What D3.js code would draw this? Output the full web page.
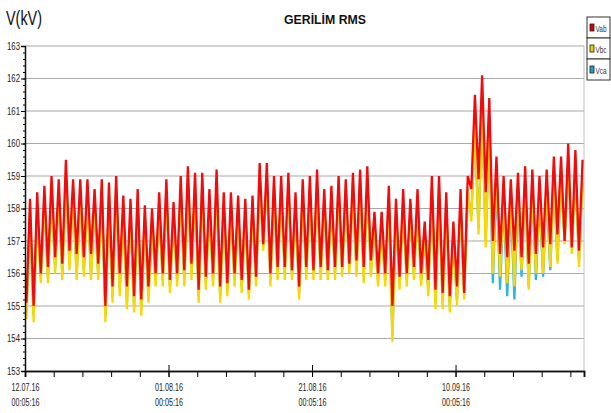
<!DOCTYPE html>
<html>
<head>
<meta charset="utf-8">
<script src="https://cdn.jsdelivr.net/npm/d3@7"></script>
<style>
  body { margin: 0; background: #fff; }
  svg { display: block; font-family: "Liberation Sans", Arial, sans-serif; }
</style>
</head>
<body>
<div id="chart"></div>
<script>
// daily extremes (kV), one value per day from 12.07.16
const vabMax = [158.3,158.5,158.7,159.0,158.9,159.5,158.9,158.9,158.9,158.6,
  158.9,158.8,159.0,158.4,158.3,158.6,158.1,158.0,158.5,158.9,
  158.2,159.0,159.3,159.1,159.1,158.6,159.2,158.5,158.5,158.4,
  158.3,158.4,159.4,159.4,159.0,159.0,159.1,158.5,158.9,159.0,
  159.2,158.6,158.7,159.0,158.9,159.1,159.2,159.3,157.9,157.9,
  158.7,158.3,158.6,158.3,158.6,157.6,159.0,159.0,158.5,157.6,
  158.6,159.0,161.5,162.1,161.4,159.6,159.0,158.9,159.1,159.3,
  159.2,159.0,159.2,159.6,159.6,160.0,159.8,159.5];
const vabMin = [155.1,155.0,156.0,156.2,156.5,156.3,156.7,156.6,156.5,156.6,
  156.3,155.0,155.6,156.0,155.6,155.3,155.2,155.6,156.0,156.0,
  155.8,156.0,156.1,156.3,155.5,155.9,156.0,155.6,155.7,156.0,
  155.8,155.5,155.9,156.9,156.0,156.2,156.2,156.1,155.6,156.2,
  156.1,156.2,156.1,156.2,156.2,156.3,156.4,156.2,156.4,156.0,
  156.0,155.0,155.9,156.0,156.2,156.0,155.8,155.5,155.4,155.3,
  155.6,155.4,158.6,158.9,158.5,157.0,156.6,156.5,156.7,156.5,
  156.3,156.6,156.8,156.9,157.2,157.0,156.8,156.7];
const vbcMax = [157.9,158.0,158.3,158.6,158.5,159.0,158.5,158.4,158.5,158.2,
  158.5,158.4,158.6,158.0,157.9,158.2,157.7,157.6,158.1,158.5,
  157.8,158.6,158.8,158.7,158.6,158.2,158.7,158.1,158.1,158.0,
  157.9,158.0,158.9,159.0,158.6,158.6,158.7,158.1,158.5,158.6,
  158.7,158.2,158.3,158.6,158.5,158.6,158.8,158.8,157.5,157.5,
  158.3,157.9,158.2,157.9,158.2,157.2,158.6,158.6,158.1,157.2,
  158.2,158.6,160.6,161.2,160.6,159.1,158.5,158.4,158.6,158.8,
  158.7,158.5,158.7,159.1,159.1,159.5,159.3,159.0];
const vbcMin = [154.6,154.5,155.7,155.7,156.0,155.8,156.1,155.8,155.9,155.8,
  155.8,154.5,155.1,155.3,154.9,154.8,154.7,155.1,155.6,155.6,
  155.4,155.6,155.6,155.8,155.1,155.5,155.6,155.1,155.3,155.6,
  155.4,155.2,155.6,156.7,155.6,155.8,155.8,155.8,155.2,155.8,
  155.8,155.8,155.8,155.8,155.9,156.0,155.9,155.7,155.9,155.6,
  155.6,153.9,155.5,155.6,155.8,155.6,155.3,154.9,154.9,154.8,
  155.0,155.2,157.6,157.2,156.8,156.0,155.9,155.7,155.6,156.1,
  155.5,156.0,156.0,156.2,156.3,156.9,156.6,156.2];
const vcaMax = [157.7,157.9,158.1,158.4,158.3,158.8,158.3,158.3,158.3,158.0,
  158.3,158.2,158.4,157.8,157.7,158.0,157.5,157.4,157.9,158.3,
  157.6,158.4,158.6,158.5,158.4,158.0,158.5,157.9,157.9,157.8,
  157.7,157.8,158.7,158.8,158.4,158.4,158.5,157.9,158.3,158.4,
  158.5,158.0,158.1,158.4,158.3,158.4,158.6,158.6,157.3,157.3,
  158.1,157.7,158.0,157.7,158.0,157.0,158.4,158.4,157.9,157.0,
  158.0,158.4,160.4,161.0,160.4,158.9,158.3,158.2,158.4,158.6,
  158.5,158.3,158.5,158.9,158.9,159.3,159.1,158.8];
const vcaMin = [154.8,154.7,155.9,155.9,156.2,156.0,156.3,156.0,156.1,156.0,
  156.0,154.7,155.3,155.5,155.1,155.0,154.9,155.3,155.8,155.8,
  155.6,155.8,155.8,156.0,155.3,155.7,155.8,155.3,155.5,155.8,
  155.6,155.4,155.8,156.9,155.8,156.0,156.0,156.0,155.4,156.0,
  156.0,156.0,156.0,156.0,156.1,156.2,156.1,155.9,156.1,155.8,
  155.8,154.1,155.7,155.8,156.0,155.8,155.5,155.1,155.1,155.0,
  155.2,155.4,157.8,157.4,157.0,155.7,155.5,155.3,155.2,155.9,
  155.6,155.8,155.9,156.1,156.4,157.0,156.8,156.4];

const seriesNames = ["Vab", "Vbc", "Vca"];
const yTicks = [153,154,155,156,157,158,159,160,161,162,163];
const xTickDates = ["2016-07-12","2016-08-01","2016-08-21","2016-09-10"];

const colors = { Vab: "#f00c0c", Vbc: "#f7d800", Vca: "#30b4dc" };
const widths = { Vab: 2.3, Vbc: 2.3, Vca: 2.3 };
const legendFill = { Vab: "#d40000", Vbc: "#e8d000", Vca: "#1aa0c8" };

const W = 611, H = 413;
const pLeft = 25, pRight = 584, pTop = 46, pBottom = 371;

const start = new Date(2016, 6, 12, 0, 5, 16);
const end = new Date(start.getTime() + 77.9 * 864e5);

const x = d3.scaleTime().domain([start, end]).range([pLeft, pRight]);
const y = d3.scaleLinear().domain([153, 163]).range([pBottom, pTop]);

function points(mx, mn) {
  const pts = [];
  mx.forEach((v, d) => {
    pts.push({ t: new Date(start.getTime() + (d + 0.2) * 864e5), v: mn[d] });
    pts.push({ t: new Date(start.getTime() + (d + 0.7) * 864e5), v: v });
  });
  return pts;
}
const data = {
  Vab: points(vabMax, vabMin),
  Vbc: points(vbcMax, vbcMin),
  Vca: points(vcaMax, vcaMin)
};

const svg = d3.select("#chart").append("svg")
  .attr("width", W).attr("height", H);
svg.append("rect").attr("width", W).attr("height", H).attr("fill", "#fff");

// grid
svg.append("g").selectAll("line")
  .data(yTicks.slice(1))
  .enter().append("line")
  .attr("x1", pLeft).attr("x2", pRight)
  .attr("y1", d => y(d)).attr("y2", d => y(d))
  .attr("stroke", "#a8a8a8").attr("stroke-width", 1.2);
svg.append("line")
  .attr("x1", pRight).attr("x2", pRight).attr("y1", pTop).attr("y2", pBottom)
  .attr("stroke", "#c0c0c0");

svg.append("clipPath").attr("id", "plot").append("rect")
  .attr("x", pLeft).attr("y", pTop).attr("width", pRight - pLeft).attr("height", pBottom - pTop);

const line = d3.line().x(d => x(d.t)).y(d => y(d.v));
const plot = svg.append("g").attr("clip-path", "url(#plot)");
["Vca", "Vbc", "Vab"].forEach(k => {
  plot.append("path")
    .datum(data[k])
    .attr("fill", "none")
    .attr("stroke", colors[k])
    .attr("stroke-width", widths[k])
    .attr("stroke-linejoin", "miter")
    .attr("stroke-miterlimit", 2)
    .attr("d", line);
});

// y axis
const yAxis = svg.append("g").attr("transform", `translate(${pLeft},0)`)
  .call(d3.axisLeft(y).tickValues(yTicks).tickSize(4).tickFormat(d3.format("d")));
svg.append("g").attr("transform", `translate(${pLeft},0)`)
  .call(d3.axisLeft(y).tickValues(d3.range(153, 163.01, 0.2)).tickSize(2).tickFormat(""))
  .select(".domain").remove();
yAxis.selectAll("text")
  .attr("x", -5)
  .attr("font-size", 10)
  .attr("fill", "#222")
  .attr("textLength", 13).attr("lengthAdjust", "spacingAndGlyphs");

// x axis
const majors = xTickDates.map(s => { const p = s.split("-"); return new Date(+p[0], +p[1] - 1, +p[2], 0, 5, 16); });
const minors = d3.range(0, 78, 4).map(n => new Date(start.getTime() + n * 864e5));
svg.append("g").attr("transform", `translate(0,${pBottom})`)
  .call(d3.axisBottom(x).tickValues(minors).tickSize(6).tickFormat(""));
const xAxis = svg.append("g").attr("transform", `translate(0,${pBottom})`)
  .call(d3.axisBottom(x).tickValues(majors).tickSize(6).tickFormat(""));
xAxis.selectAll(".tick line").attr("y1", -6);
xAxis.selectAll(".tick").each(function(d) {
  const g = d3.select(this);
  g.append("text").attr("y", 20).attr("fill", "#222").attr("font-size", 11)
    .attr("textLength", 28).attr("lengthAdjust", "spacingAndGlyphs")
    .text(d3.timeFormat("%d.%m.%y")(d));
  g.append("text").attr("y", 35).attr("fill", "#222").attr("font-size", 11)
    .attr("textLength", 28).attr("lengthAdjust", "spacingAndGlyphs")
    .text(d3.timeFormat("%H:%M:%S")(d));
});
svg.selectAll(".domain").attr("stroke", "#111").attr("stroke-width", 1.5);

// titles
svg.append("text").attr("x", 6).attr("y", 25)
  .attr("font-size", 20).attr("fill", "#111")
  .attr("textLength", 36).attr("lengthAdjust", "spacingAndGlyphs")
  .text("V(kV)");
svg.append("text").attr("x", 325).attr("y", 24)
  .attr("text-anchor", "middle").attr("font-size", 12).attr("font-weight", "bold")
  .attr("fill", "#111")
  .attr("textLength", 82).attr("lengthAdjust", "spacingAndGlyphs")
  .text("GERİLİM RMS");

// legend
const leg = svg.append("g").attr("transform", "translate(587,17)");
seriesNames.forEach((k, i) => {
  const r = leg.append("g").attr("transform", `translate(0,${i * 21})`);
  r.append("rect").attr("width", 23).attr("height", 21)
    .attr("fill", "#fff").attr("stroke", "#333");
  r.append("rect").attr("x", 3).attr("y", 7).attr("width", 4).attr("height", 7)
    .attr("fill", legendFill[k]).attr("stroke", "#222").attr("stroke-width", 0.8);
  r.append("text").attr("x", 8.5).attr("y", 15).attr("font-size", 9.5).attr("fill", "#333")
    .attr("textLength", 11).attr("lengthAdjust", "spacingAndGlyphs")
    .text(k);
});
</script>
</body>
</html>
